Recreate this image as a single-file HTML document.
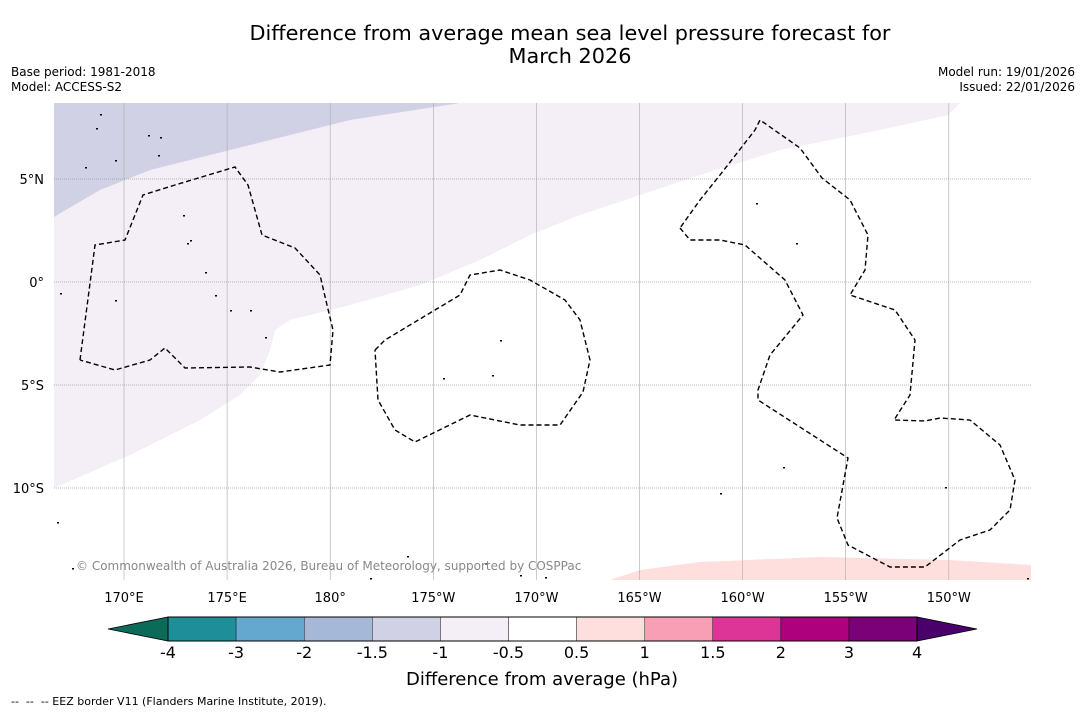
<!DOCTYPE html>
<html><head><meta charset="utf-8">
<style>
body{margin:0;background:#fff;font-family:"DejaVu Sans","Liberation Sans",sans-serif;}
#wrap{position:relative;width:1085px;height:713px;overflow:hidden;background:#fff}
.t{position:absolute;white-space:nowrap;color:#000}
svg text{font-family:"DejaVu Sans","Liberation Sans",sans-serif}
</style></head><body>
<div id="wrap">
<div class="t" style="left:0;width:1140px;text-align:center;top:22px;font-size:20.8px;line-height:23px">Difference from average mean sea level pressure forecast for<br>March 2026</div>
<div class="t" style="left:11px;top:65px;font-size:12px;line-height:15px">Base period: 1981-2018<br>Model: ACCESS-S2</div>
<div class="t" style="right:10px;top:65px;font-size:12px;line-height:15px;text-align:right">Model run: 19/01/2026<br>Issued: 22/01/2026</div>
<svg id="svg" width="1085" height="713" style="position:absolute;left:0;top:0"></svg>
<div class="t" style="left:11px;top:695px;font-size:11px">-- &nbsp;-- &nbsp;-- EEZ border V11 (Flanders Marine Institute, 2019).</div>
</div>
<script>
const lonTicks=[170,175,180,185,190,195,200,205,210];
const lonLabels=["170°E","175°E","180°","175°W","170°W","165°W","160°W","155°W","150°W"];
const latTicks=[5,0,-5,-10];
const latLabels=["5°N","0°","5°S","10°S"];
const levels=["-4","-3","-2","-1.5","-1","-0.5","0.5","1","1.5","2","3","4"];
const colors=["#1e8f98","#64a8cf","#a5b8d8","#d0d1e5","#f4eef6","#ffffff","#fedfdd","#f99fb5","#dc3497","#ad017d","#7a0177"];
const ns="http://www.w3.org/2000/svg";
const svg=document.getElementById('svg');
const X=lon=>124+(lon-170)*20.62, Y=lat=>282-lat*20.6;
function mk(t,a,p){const e=document.createElementNS(ns,t);for(const k in a)e.setAttribute(k,a[k]);(p||svg).appendChild(e);return e;}
const L=54,R=1031,T=103,B=580;
mk('defs',{}).innerHTML='<clipPath id="c"><rect x="54" y="103" width="977" height="477"/></clipPath>';
const map=mk('g',{});


map.setAttribute('clip-path','url(#c)');
let p=mk('polygon',{points:"54,103 960,103 948,115 880,130 780,150 700,175 640,195 580,215 530,235 480,260 420,285 350,305 290,320 275,330 270,350 260,375 240,395 200,420 130,455 54,488",fill:"#f4eef6"},map);


p=mk('polygon',{points:"54,103 460,103 350,120 250,145 150,170 100,190 54,217",fill:"#d0d1e5"},map);


p=mk('polygon',{points:"610,580 640,570 700,562 820,557 950,560 1031,565 1031,580",fill:"#fedfdd"},map);


lonTicks.forEach((v,i)=>{
 const l=mk('line',{x1:X(v),x2:X(v),y1:T,y2:B,stroke:"#aaa",'stroke-width':0.6},map);
 
 
 const t=mk('text',{x:X(v),y:602,'font-size':13,'text-anchor':'middle'});
 
 
 t.textContent=lonLabels[i];
});
latTicks.forEach((v,i)=>{
 const l=mk('line',{x1:L,x2:R,y1:Y(v),y2:Y(v),stroke:"#777",'stroke-width':0.6,'stroke-dasharray':'1,1'},map);
 
 
 const t=mk('text',{x:44,y:Y(v)+5,'font-size':13,'text-anchor':'end'});
 
 
 t.textContent=latLabels[i];
});
const eez=["80,360 95,245 125,240 143,195 175,185 235,167 248,185 262,235 295,248 320,275 327,305 333,330 330,365 280,372 250,367 185,368 165,348 150,360 115,370 80,360",
"375,350 385,340 460,295 470,275 500,270 530,280 565,300 580,320 590,360 583,392 560,425 520,425 470,415 415,442 395,430 378,400 375,350",
"680,228 690,240 720,240 745,245 785,280 803,315 770,355 758,390 758,400 848,458 837,518 848,545 890,567 925,567 960,540 990,530 1010,510 1015,480 1000,445 970,420 940,418 925,421 894,420 910,395 915,340 895,310 850,295 865,270 868,235 850,200 822,178 800,148 760,120 755,130 720,175 700,200 680,228"];
eez.forEach(s=>{const e=mk('polyline',{points:s,fill:'none',stroke:'#000','stroke-width':1.4,'stroke-dasharray':'5,3'},map);
 
 });
const isl=[[96,128],[148,135],[160,137],[183,215],[187,243],[205,272],[230,310],[250,310],[265,337],[500,340],[492,375],[443,378],[520,575],[485,563],[796,243],[756,203],[783,467],[720,493],[57,522],[72,568],[945,487],[1027,578],[407,556],[370,578],[545,577],[115,300],[60,293],[85,167],[115,160],[158,155],[100,114],[190,240],[215,295]];
isl.forEach(a=>{const e=mk('rect',{x:a[0],y:a[1],width:2,height:1.5,fill:'#000'},map);
 
 });
const cp=mk('text',{x:76,y:570,'font-size':12,fill:'#888'});


cp.textContent="© Commonwealth of Australia 2026, Bureau of Meteorology, supported by COSPPac";
const cb=mk('g',{});


const x0=168,w=68.1,y0=617,h=24;
let e=mk('polygon',{points:`108,${y0+h/2} ${x0},${y0} ${x0},${y0+h}`,fill:'#0c6b58',stroke:'#000','stroke-width':0.8},cb);


colors.forEach((c,i)=>{const r=mk('rect',{x:x0+i*w,y:y0,width:w,height:h,fill:c,stroke:'#000','stroke-width':0.4},cb);
 
 });
const xe=x0+colors.length*w;
e=mk('polygon',{points:`${xe},${y0} 977,${y0+h/2} ${xe},${y0+h}`,fill:'#49006a',stroke:'#000','stroke-width':0.8},cb);


mk('rect',{x:x0,y:y0,width:xe-x0,height:h,fill:'none',stroke:'#000','stroke-width':1},cb);
levels.forEach((v,i)=>{const t=mk('text',{x:x0+i*w,y:658,'font-size':16,'text-anchor':'middle'},cb);
 
 
 t.textContent=v;});
const ct=mk('text',{x:542,y:685,'font-size':18,'text-anchor':'middle'});


ct.textContent="Difference from average (hPa)";
</script>
</body></html>
